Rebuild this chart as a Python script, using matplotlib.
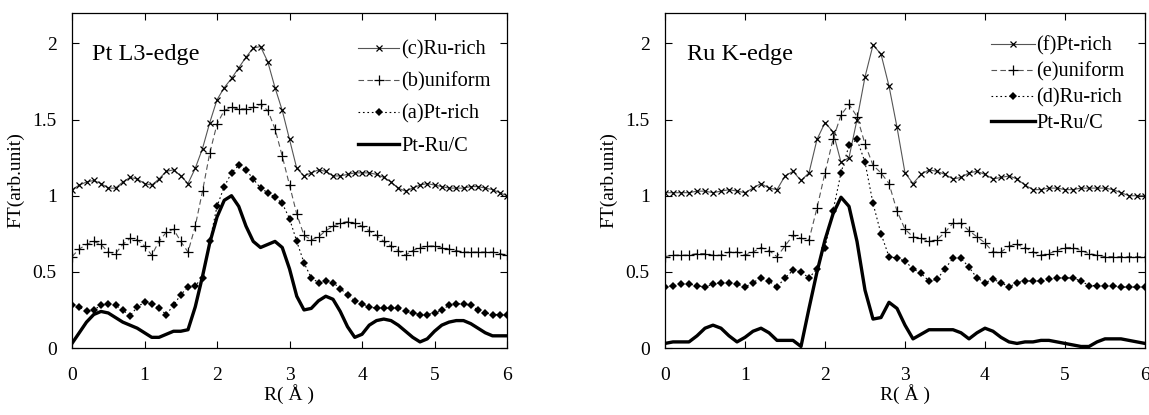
import numpy as np
import matplotlib
matplotlib.use("Agg")
import matplotlib.pyplot as plt

plt.rcParams["font.family"] = ["Liberation Serif", "DejaVu Serif"]

# distancia R (Angstrom), paso 0.1
r = np.round(np.arange(0, 6.01, 0.1), 2)

# ---- Pt L3-edge ----
pt_c_rurich = [1.04, 1.07, 1.09, 1.10, 1.08, 1.05, 1.05, 1.09, 1.12, 1.11,
               1.08, 1.07, 1.11, 1.16, 1.17, 1.13, 1.08, 1.18, 1.31, 1.48,
               1.63, 1.71, 1.77, 1.84, 1.91, 1.97, 1.98, 1.88, 1.71, 1.56,
               1.37, 1.18, 1.13, 1.15, 1.17, 1.16, 1.13, 1.13, 1.14, 1.15,
               1.15, 1.15, 1.14, 1.12, 1.09, 1.05, 1.03, 1.05, 1.07, 1.08,
               1.07, 1.06, 1.05, 1.05, 1.05, 1.06, 1.06, 1.05, 1.04, 1.02,
               1.00]
pt_b_uniform = [0.60, 0.65, 0.68, 0.70, 0.68, 0.63, 0.62, 0.68, 0.72, 0.71,
                0.67, 0.61, 0.70, 0.76, 0.78, 0.70, 0.63, 0.80, 1.03, 1.28,
                1.47, 1.56, 1.58, 1.57, 1.57, 1.58, 1.60, 1.56, 1.44, 1.26,
                1.07, 0.88, 0.74, 0.71, 0.73, 0.77, 0.80, 0.82, 0.83, 0.82,
                0.80, 0.77, 0.74, 0.70, 0.67, 0.64, 0.61, 0.64, 0.66, 0.67,
                0.67, 0.66, 0.65, 0.64, 0.63, 0.63, 0.63, 0.63, 0.63, 0.62,
                0.61]
pt_a_ptrich = [0.28, 0.27, 0.24, 0.25, 0.28, 0.29, 0.28, 0.25, 0.21, 0.27,
               0.30, 0.29, 0.26, 0.22, 0.28, 0.35, 0.40, 0.41, 0.46, 0.70,
               0.93, 1.06, 1.15, 1.20, 1.17, 1.11, 1.05, 1.02, 0.99, 0.95,
               0.85, 0.70, 0.56, 0.46, 0.43, 0.44, 0.43, 0.39, 0.35, 0.31,
               0.29, 0.27, 0.26, 0.26, 0.26, 0.26, 0.24, 0.23, 0.22, 0.22,
               0.23, 0.25, 0.28, 0.29, 0.29, 0.28, 0.25, 0.23, 0.22, 0.22,
               0.22]
pt_ptru_c = [0.03, 0.10, 0.17, 0.22, 0.24, 0.23, 0.20, 0.17, 0.15, 0.13,
             0.10, 0.07, 0.07, 0.09, 0.11, 0.11, 0.12, 0.27, 0.47, 0.69,
             0.86, 0.97, 1.00, 0.93, 0.80, 0.70, 0.66, 0.68, 0.70, 0.66,
             0.52, 0.34, 0.25, 0.26, 0.31, 0.34, 0.32, 0.24, 0.14, 0.07,
             0.09, 0.15, 0.18, 0.19, 0.18, 0.15, 0.11, 0.07, 0.04, 0.06,
             0.11, 0.15, 0.17, 0.18, 0.18, 0.16, 0.13, 0.10, 0.08, 0.08,
             0.08]

# ---- Ru K-edge ----
ru_f_ptrich = [1.02, 1.02, 1.02, 1.02, 1.03, 1.03, 1.02, 1.03, 1.04, 1.03,
               1.02, 1.05, 1.08, 1.05, 1.04, 1.13, 1.16, 1.10, 1.15, 1.37,
               1.48, 1.42, 1.22, 1.25, 1.50, 1.78, 1.99, 1.93, 1.72, 1.45,
               1.15, 1.08, 1.14, 1.17, 1.16, 1.14, 1.11, 1.12, 1.15, 1.16,
               1.14, 1.11, 1.12, 1.13, 1.11, 1.07, 1.04, 1.04, 1.05, 1.05,
               1.04, 1.04, 1.05, 1.05, 1.05, 1.05, 1.04, 1.02, 1.00, 1.00,
               1.00]
ru_e_uniform = [0.60, 0.61, 0.61, 0.61, 0.62, 0.62, 0.61, 0.61, 0.63, 0.63,
                0.61, 0.63, 0.66, 0.64, 0.60, 0.67, 0.74, 0.72, 0.71, 0.92,
                1.15, 1.37, 1.53, 1.60, 1.52, 1.34, 1.20, 1.15, 1.08, 0.90,
                0.78, 0.73, 0.72, 0.70, 0.71, 0.76, 0.82, 0.82, 0.77, 0.73,
                0.69, 0.63, 0.63, 0.67, 0.68, 0.66, 0.63, 0.61, 0.62, 0.64,
                0.66, 0.66, 0.64, 0.62, 0.61, 0.60, 0.60, 0.60, 0.60, 0.60,
                0.60]
ru_d_rurich = [0.40, 0.41, 0.42, 0.42, 0.41, 0.40, 0.42, 0.43, 0.43, 0.42,
               0.40, 0.43, 0.46, 0.44, 0.40, 0.46, 0.51, 0.50, 0.46, 0.52,
               0.66, 0.90, 1.15, 1.33, 1.37, 1.22, 0.95, 0.75, 0.60, 0.59,
               0.57, 0.52, 0.49, 0.44, 0.45, 0.52, 0.59, 0.59, 0.53, 0.46,
               0.43, 0.45, 0.43, 0.40, 0.43, 0.44, 0.44, 0.44, 0.45, 0.46,
               0.46, 0.46, 0.44, 0.41, 0.41, 0.41, 0.41, 0.40, 0.40, 0.40,
               0.40]
ru_ptru_c = [0.03, 0.04, 0.04, 0.04, 0.08, 0.13, 0.15, 0.13, 0.08, 0.04,
             0.07, 0.11, 0.13, 0.10, 0.05, 0.05, 0.05, 0.01, 0.26, 0.50,
             0.71, 0.88, 0.99, 0.93, 0.70, 0.38, 0.19, 0.20, 0.30, 0.26,
             0.15, 0.06, 0.09, 0.12, 0.12, 0.12, 0.12, 0.10, 0.06, 0.10,
             0.13, 0.11, 0.07, 0.04, 0.03, 0.04, 0.04, 0.05, 0.05, 0.04,
             0.03, 0.02, 0.01, 0.01, 0.04, 0.06, 0.06, 0.06, 0.05, 0.04,
             0.03]

x_ticks = [0, 1, 2, 3, 4, 5, 6]
y_ticks = [0, 0.5, 1, 1.5, 2]
y_tick_labels = ["0", "0.5", "1", "1.5", "2"]

fig = plt.figure(figsize=(11.49, 4.15), dpi=100)
ax1 = fig.add_axes([72 / 1149, 1 - 348 / 415, 435 / 1149, 335 / 415])
ax2 = fig.add_axes([665 / 1149, 1 - 348 / 415, 480 / 1149, 335 / 415])


def dibujar(ax, c, b, a, ptru, labels, titulo, leg_pos, leg_sp, leg_hl):
    ax.plot(r, c, color="#555555", lw=0.8, marker="x", ms=5, mew=0.9,
            mec="black", label=labels[0])
    ax.plot(r, b, color="#555555", lw=0.8, ls=(0, (5, 3)), marker="+",
            ms=7, mew=0.9, mec="black", label=labels[1])
    ax.plot(r, a, color="black", lw=0.8, ls=(0, (1.5, 2.5)), marker="D",
            ms=4.2, mew=0, mfc="black", label=labels[2])
    ax.plot(r, ptru, color="black", lw=2.4, label=labels[3])
    ax.set_xlim(0, 6)
    ax.set_ylim(0, 2.2)
    ax.set_xticks(x_ticks)
    ax.set_yticks(y_ticks)
    ax.set_yticklabels(y_tick_labels)
    ax.tick_params(direction="in", top=True, right=True, labelsize=14,
                   length=5, width=0.8)
    ax.tick_params(axis="x", pad=14)
    ax.tick_params(axis="y", pad=11)
    for s in ax.spines.values():
        s.set_linewidth(0.9)
    ax.set_xlabel("R( Å )", fontsize=14, labelpad=0)
    ax.set_ylabel("FT(arb.unit)", fontsize=14, labelpad=6)
    ax.text(0.046, 0.86, titulo, transform=ax.transAxes, fontsize=17.5)
    ax.legend(loc="upper right", bbox_to_anchor=leg_pos, frameon=False,
              fontsize=14.7, handlelength=leg_hl, handletextpad=0.1,
              numpoints=1, labelspacing=leg_sp, borderaxespad=0,
              borderpad=0)


dibujar(ax1, pt_c_rurich, pt_b_uniform, pt_a_ptrich, pt_ptru_c,
        ["(c)Ru-rich", "(b)uniform", "(a)Pt-rich", "Pt-Ru/C"], "Pt L3-edge",
        (0.962, 0.918), 0.62, 2.0)
dibujar(ax2, ru_f_ptrich, ru_e_uniform, ru_d_rurich, ru_ptru_c,
        ["(f)Pt-rich", "(e)uniform", "(d)Ru-rich", "Pt-Ru/C"], "Ru K-edge",
        (0.958, 0.93), 0.32, 2.15)

fig.savefig("out.png", dpi=100)
plt.close(fig)
